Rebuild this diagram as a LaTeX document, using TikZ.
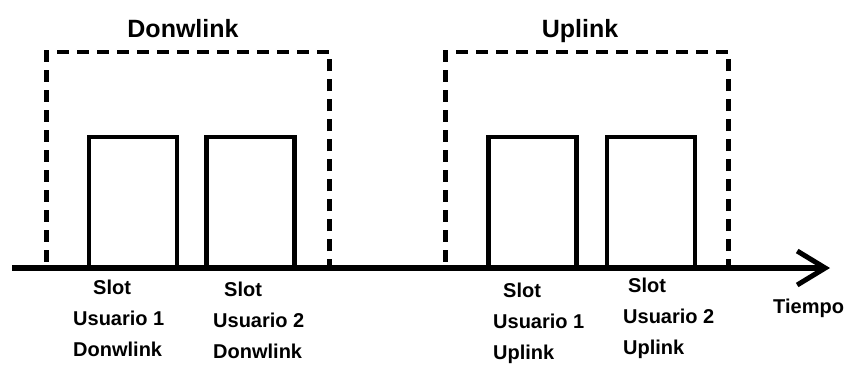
\documentclass[tikz,border=0pt]{standalone}
\usepackage{fontspec}
\setmainfont{Liberation Sans}
\usetikzlibrary{arrows.meta}
\usetikzlibrary{positioning}
\newcommand{\slotnode}[2]{\node(#1)[slotbox] at (#2,268) {}}

\begin{document}
\begin{tikzpicture}[
        x=1pt,y=-1pt,
        every node/.style={font=\bfseries},
        slotbox/.style={rectangle,minimum height=131pt,minimum width=88pt,
                     inner sep=0pt,outer sep=0pt,anchor=south,line width=4.8pt,draw=black},
        framebox/.style={rectangle,minimum height=216pt,minimum width=283pt,
                     inner sep=0pt,outer sep=0pt,anchor=south west,line width=4.8pt,
                     dash pattern=on 12pt off 8pt,draw=black},
        title/.style={anchor=base,inner sep=0pt,font=\fontsize{25}{30}\selectfont\bfseries},
        slottext/.style={anchor=north west,align=left,inner sep=0pt,
                     font=\fontsize{20}{31}\selectfont\bfseries}
      ]
      \useasboundingbox (0,0) rectangle (848,365);
      % dashed frames for both directions
      \node(dlframe)[framebox] at (46.5,268) {};
      \node(ulframe)[framebox] at (445.5,268) {};
      \node(dltitle)[title] at (183,37) {Donwlink};
      \node(ultitle)[title] at (580,37) {Uplink};
      % one slot per user
      \slotnode{dl1}{133}; \slotnode{dl2}{250.5};
      \slotnode{ul1}{532.5}; \slotnode{ul2}{651};
      % time axis
      \coordinate (t0) at (12,268);
      \coordinate (t1) at (830,268);
      \draw[line width=6pt,-{Straight Barb[length=28pt,width=34pt,line width=5pt]}] (t0) -- (t1);
      \node(tiempo)[anchor=base west,inner sep=0pt,font=\fontsize{20}{24}\selectfont\bfseries] at (773,313) {Tiempo};
      % slot captions
      \node(dl1text)[slottext] at (73,280) {\hspace*{20pt}Slot\\Usuario 1\\Donwlink};
      \node(dl2text)[slottext] at (213,282) {\hspace*{11pt}Slot\\Usuario 2\\Donwlink};
      \node(ul1text)[slottext] at (493,283) {\hspace*{10pt}Slot\\Usuario 1\\Uplink};
      \node(ul2text)[slottext] at (623,278) {\hspace*{5pt}Slot\\Usuario 2\\Uplink};
    \end{tikzpicture}
\end{document}
